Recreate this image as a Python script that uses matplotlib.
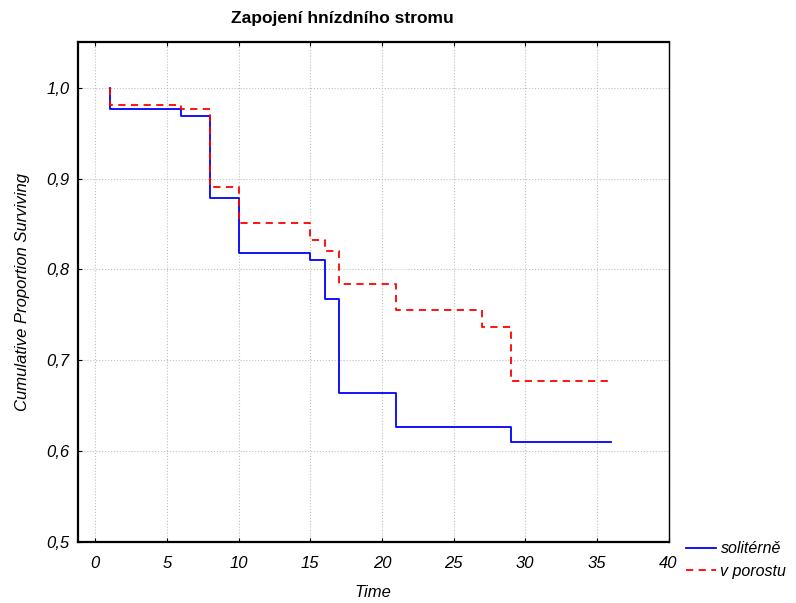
import numpy as np
from matplotlib import pyplot as plt
plt.rcParams['font.family'] = ['Liberation Sans', 'DejaVu Sans']

# survival times and cumulative proportion surviving
solo_t = [1, 1, 6, 8, 10, 15, 16, 17, 21, 29, 36]
solo_p = [1.0, 0.976, 0.969, 0.879, 0.818, 0.810, 0.767, 0.664, 0.627, 0.610, 0.610]
por_t = [1, 1, 6, 8, 10, 15, 16, 17, 21, 27, 29, 36]
por_p = [1.0, 0.981, 0.977, 0.891, 0.851, 0.832, 0.820, 0.784, 0.755, 0.737, 0.677, 0.677]
labels = ['solitérně', 'v porostu']

fig = plt.figure(figsize=(7.96, 6.03), dpi=100)
ax = fig.add_axes([0.098, 0.101, 0.742, 0.829])

l1, = ax.step(solo_t, solo_p, where='post', color='blue', lw=1.3)
l2, = ax.step(por_t, por_p, where='post', color='red', lw=1.3, ls=(0, (4, 3)))

ax.set_xlim(-1.2, 40)
ax.set_ylim(0.5, 1.05)
ax.set_xticks(np.arange(0, 41, 5))
ax.set_yticks([0.5, 0.6, 0.7, 0.8, 0.9, 1.0])
ax.set_yticklabels(['0,5', '0,6', '0,7', '0,8', '0,9', '1,0'])
for t in ax.get_xticklabels() + ax.get_yticklabels():
    t.set_fontstyle('italic')
    t.set_fontsize(12)
ax.tick_params(direction='in', length=3, top=True, right=False)
ax.tick_params(axis='x', pad=10)
ax.tick_params(axis='y', pad=6)
ax.grid(True, color='#c0c0c0', ls=':', lw=0.8)
for s in ['left', 'bottom', 'top']:
    ax.spines[s].set_linewidth(1.6)
ax.spines['right'].set_linewidth(1.0)

ax.set_xlabel('Time', fontstyle='italic', fontsize=12, labelpad=10)
ax.set_ylabel('Cumulative Proportion Surviving', fontstyle='italic', fontsize=12, labelpad=12)
ax.set_title('Zapojení hnízdního stromu', fontweight='bold', fontsize=12.5, pad=14, x=0.448)

fig.legend([l1, l2], labels, loc='upper left', bbox_to_anchor=(0.862, 0.102),
           frameon=False, prop={'style': 'italic', 'size': 11.5},
           handlelength=1.9, handletextpad=0.25, labelspacing=0.45,
           borderpad=0, borderaxespad=0)

plt.savefig('out.png', dpi=100)
